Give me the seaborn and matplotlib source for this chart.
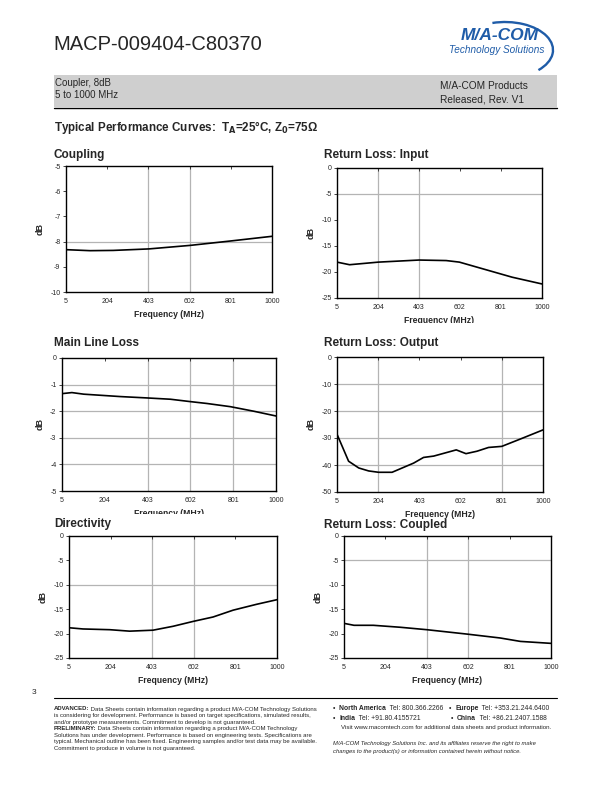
import matplotlib
matplotlib.use("Agg")
import matplotlib.pyplot as plt
import seaborn as sns
import pandas as pd
from matplotlib.patches import Rectangle, Arc

# ---------------- data ----------------
freq_ticks = [5, 204, 403, 602, 801, 1000]

coupling_f = [5, 121, 233, 406, 605, 795, 1000]
coupling_db = [-8.32, -8.36, -8.35, -8.29, -8.15, -7.98, -7.79]

input_f = [5, 66, 206, 403, 535, 599, 727, 855, 1000]
input_db = [-18.1, -18.6, -18.1, -17.7, -17.8, -18.1, -19.55, -21.0, -22.3]

mainline_f = [5, 51, 106, 276, 397, 509, 602, 679, 788, 896, 1000]
mainline_db = [-1.34, -1.30, -1.36, -1.45, -1.50, -1.55, -1.64, -1.71, -1.83, -2.00, -2.18]

output_f = [5, 61, 110, 158, 206, 271, 375, 423, 472, 581, 628, 681, 737, 801, 890, 1000]
output_db = [-28.6, -38.6, -41.1, -42.2, -42.7, -42.7, -39.3, -37.2, -36.7, -34.4,
             -35.8, -34.9, -33.5, -33.1, -30.4, -27.0]

directivity_f = [5, 72, 200, 295, 407, 503, 599, 694, 790, 902, 1000]
directivity_db = [-18.8, -19.05, -19.2, -19.5, -19.3, -18.5, -17.5, -16.6, -15.2, -14.0, -13.05]

coupled_f = [5, 53, 146, 275, 403, 596, 756, 853, 1000]
coupled_db = [-17.9, -18.3, -18.3, -18.7, -19.2, -20.1, -20.9, -21.6, -22.0]

titles = ["Coupling", "Return Loss: Input", "Main Line Loss",
          "Return Loss: Output", "Directivity", "Return Loss: Coupled"]
y_ranges = [(-10, -5, 1), (-25, 0, 5), (-5, 0, 1), (-50, 0, 10), (-25, 0, 5), (-25, 0, 5)]
v_grid = [[403, 602], [204, 403], [403, 602, 801], [204, 801], [403, 602], [403, 602]]
h_grid = [[-8], [-5], [-1, -2, -3, -4], [-10, -20, -30, -40], [-10], [-5]]
series = [(coupling_f, coupling_db), (input_f, input_db), (mainline_f, mainline_db),
          (output_f, output_db), (directivity_f, directivity_db), (coupled_f, coupled_db)]

# ---------------- layout (pixels on a 612x792 page) ----------------
W, H = 612, 792
boxes = [(66, 166, 272, 292), (337, 168, 542, 298), (62, 358, 276, 491),
         (337, 357, 543, 492), (69, 536, 277, 658), (344, 536, 551, 658)]
title_pos = [(54, 155), (324, 155), (54, 343), (324, 343), (54, 524), (324, 525)]

sns.set_style("white")
plt.rcParams["font.family"] = ["Liberation Sans", "DejaVu Sans"]

fig = plt.figure(figsize=(W / 100, H / 100), dpi=100)
fig.patch.set_facecolor("white")

page = fig.add_axes([0, 0, 1, 1], zorder=0)
page.set_xlim(0, W)
page.set_ylim(H, 0)
page.axis("off")
fig.canvas.draw()
renderer = fig.canvas.get_renderer()


def segments(x, y, parts, size, style="normal"):
    for txt, wt in parts:
        t = page.text(x, y, txt, fontsize=size, fontweight=wt, style=style, va="center")
        x += t.get_window_extent(renderer=renderer).width


page.text(53, 45, "MACP-009404-C80370", fontsize=14.5, va="center", ha="left")

# logo
blue = "#1f5ca8"
page.text(500, 36, "M/A-COM", fontsize=12.5, fontweight="bold", style="italic",
          color=blue, ha="center", va="center")
page.text(497, 50, "Technology Solutions", fontsize=7.2, style="italic",
          color=blue, ha="center", va="center")
page.add_patch(Arc((505, 50), 96, 56, theta1=-115, theta2=31, color=blue, lw=1.7))

# grey band
page.add_patch(Rectangle((54, 75), 503, 32, facecolor="#cfcfcf", edgecolor="none"))
page.plot([54, 557], [107.5, 107.5], color="black", lw=1.0)
page.text(55, 83, "Coupler, 8dB", fontsize=7, va="center")
page.text(55, 95, "5 to 1000 MHz", fontsize=7, va="center")
page.text(440, 86, "M/A-COM Products", fontsize=7.3, va="center")
page.text(440, 99, "Released, Rev. V1", fontsize=7.3, va="center")

page.text(54, 128, r"Typical Performance Curves:  T$_\mathbf{A}$=25°C, Z$_\mathbf{0}$=75Ω",
          fontsize=8.4, fontweight="bold", va="center")

# footer
page.text(32, 692, "3", fontsize=6, va="center")
page.plot([54, 557], [697.5, 697.5], color="black", lw=0.8)

fs = 4.3
left_lines = [
    ("ADVANCED:", " Data Sheets contain information regarding a product M/A-COM Technology Solutions"),
    ("", "is considering for development. Performance is based on target specifications, simulated results,"),
    ("", "and/or prototype measurements. Commitment to develop is not guaranteed."),
    ("PRELIMINARY:", " Data Sheets contain information regarding a product M/A-COM Technology"),
    ("", "Solutions has under development. Performance is based on engineering tests. Specifications are"),
    ("", "typical. Mechanical outline has been fixed. Engineering samples and/or test data may be available."),
    ("", "Commitment to produce in volume is not guaranteed."),
]
for i, (b, r) in enumerate(left_lines):
    y = 709 + i * 6.6
    parts = ([(b, "bold")] if b else []) + [(r, "normal")]
    segments(54, y, parts, fs)

rf = 4.9
segments(333, 709, [("•  ", "normal"), ("North America", "bold"), ("  Tel: 800.366.2266", "normal")], rf)
segments(449, 709, [("•  ", "normal"), ("Europe", "bold"), ("  Tel: +353.21.244.6400", "normal")], rf)
segments(333, 718, [("•  ", "normal"), ("India", "bold"), ("  Tel: +91.80.4155721", "normal")], rf)
segments(451, 718, [("•  ", "normal"), ("China", "bold"), ("  Tel: +86.21.2407.1588", "normal")], rf)
page.text(341, 727, "Visit www.macomtech.com for additional data sheets and product information.",
          fontsize=4.4, va="center")
page.text(333, 744, "M/A-COM Technology Solutions Inc. and its affiliates reserve the right to make",
          fontsize=4.25, style="italic", va="center")
page.text(333, 752, "changes to the product(s) or information contained herein without notice.",
          fontsize=4.25, style="italic", va="center")

# ---------------- charts ----------------
for k in range(6):
    l, t, r, b = boxes[k]
    ax = fig.add_axes([l / W, 1 - b / H, (r - l) / W, (b - t) / H], zorder=1)
    f, d = series[k]
    df = pd.DataFrame({"Frequency (MHz)": f, "dB": d})
    for v in v_grid[k]:
        ax.axvline(v, color="#b4b4b4", lw=0.9, zorder=0)
    for h in h_grid[k]:
        ax.axhline(h, color="#b4b4b4", lw=0.9, zorder=0)
    sns.lineplot(data=df, x="Frequency (MHz)", y="dB", ax=ax, color="black", lw=1.2, zorder=3)
    lo, hi, step = y_ranges[k]
    ax.set_xlim(5, 1000)
    ax.set_ylim(lo, hi)
    ax.set_xticks(freq_ticks)
    ax.set_xticklabels([str(v) for v in freq_ticks])
    yt = list(range(lo, hi + 1, step))
    ax.set_yticks(yt)
    ax.set_yticklabels([str(v) for v in yt])
    ax.tick_params(axis="both", labelsize=5, length=2, width=0.6, pad=2)
    ax.tick_params(axis="x", bottom=False, top=True, direction="in", pad=4)
    ax.tick_params(axis="y", left=True, direction="out")
    for s in ax.spines.values():
        s.set_visible(True)
        s.set_color("black")
        s.set_linewidth(1.0)
    ax.set_xlabel("Frequency (MHz)", fontsize=6.2, fontweight="bold", labelpad=4)
    ax.set_ylabel("dB", fontsize=6.5, fontweight="bold", labelpad=4)
    ax.set_facecolor("white")

top = fig.add_axes([0, 0, 1, 1], zorder=5)
top.set_xlim(0, W)
top.set_ylim(H, 0)
top.axis("off")
top.patch.set_alpha(0)
top.add_patch(Rectangle((40, 514), 250, 6, facecolor="white", edgecolor="none"))
top.add_patch(Rectangle((320, 323), 240, 6, facecolor="white", edgecolor="none"))
for k in range(6):
    x, y = title_pos[k]
    top.text(x, y, titles[k], fontsize=8.5, fontweight="bold", va="center", ha="left")

fig.savefig("out.png", dpi=100, facecolor="white")
